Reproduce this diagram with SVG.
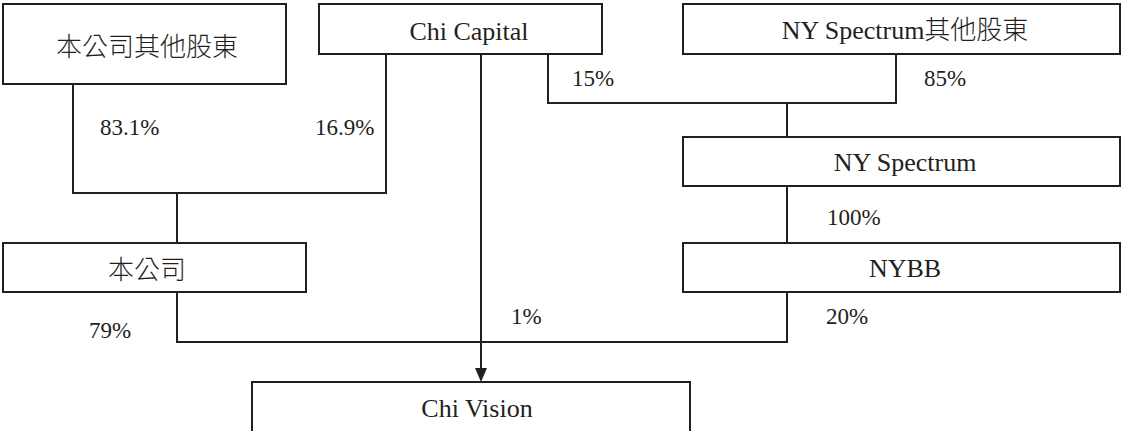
<svg xmlns="http://www.w3.org/2000/svg" width="1123" height="431" viewBox="0 0 1123 431">
<style>
.box{fill:#fff;stroke:#231f20;stroke-width:2}
.ln{fill:none;stroke:#231f20;stroke-width:2}
.lbl{font-family:"Liberation Serif","Noto Sans CJK TC",serif;font-size:26px;fill:#231f20;text-anchor:middle}
.zh{font-family:"Noto Sans CJK TC","Liberation Serif",sans-serif;font-size:26px;font-weight:300;fill:#231f20;text-anchor:middle}
.pct{font-family:"Liberation Serif",serif;font-size:23px;fill:#231f20}
</style>
<defs>
<marker id="arr" markerWidth="12" markerHeight="14" refX="6" refY="14" orient="auto" markerUnits="userSpaceOnUse" viewBox="0 0 12 14">
<path d="M0,0 L12,0 L6,14 Z" fill="#231f20"/>
</marker>
</defs>
<rect width="1123" height="431" fill="#fff"/>
<g id="connectors">
<path class="ln" d="M73,84 V193 H386 V54"/>
<path class="ln" d="M177,193 V243"/>
<path class="ln" d="M548,54 V103 H896 V54"/>
<path class="ln" d="M787,103 V137"/>
<path class="ln" d="M787,186 V243"/>
<path class="ln" d="M177,292 V342 H787 V292"/>
<path class="ln" d="M481,54 V368"/>
<polygon points="475,368 487,368 481,382" fill="#231f20"/>
<text class="pct" x="100" y="135">83.1%</text>
<text class="pct" x="315" y="135">16.9%</text>
<text class="pct" x="572" y="86">15%</text>
<text class="pct" x="924" y="86">85%</text>
<text class="pct" x="827" y="225">100%</text>
<text class="pct" x="89" y="338">79%</text>
<text class="pct" x="511" y="324">1%</text>
<text class="pct" x="826" y="324">20%</text>
</g>
<g id="node-others">
<rect class="box" x="3" y="4" width="283" height="80"/>
<text class="zh" x="147" y="56">本公司其他股東</text>
</g>
<g id="node-chicapital">
<rect class="box" x="319" y="4" width="283" height="50"/>
<text class="lbl" x="469" y="40">Chi Capital</text>
</g>
<g id="node-nyothers">
<rect class="box" x="683" y="4" width="437" height="50"/>
<text class="lbl" x="905" y="39">NY Spectrum<tspan font-family="Noto Sans CJK TC, sans-serif" font-weight="300">其他股東</tspan></text>
</g>
<g id="node-nyspectrum">
<rect class="box" x="683" y="137" width="437" height="49"/>
<text class="lbl" x="905" y="171">NY Spectrum</text>
</g>
<g id="node-company">
<rect class="box" x="3" y="243" width="303" height="49"/>
<text class="zh" x="147" y="279">本公司</text>
</g>
<g id="node-nybb">
<rect class="box" x="683" y="243" width="437" height="49"/>
<text class="lbl" x="905" y="277">NYBB</text>
</g>
<g id="node-chivision">
<rect class="box" x="252" y="382" width="438" height="60"/>
<text class="lbl" x="477" y="417">Chi Vision</text>
</g>
</svg>
